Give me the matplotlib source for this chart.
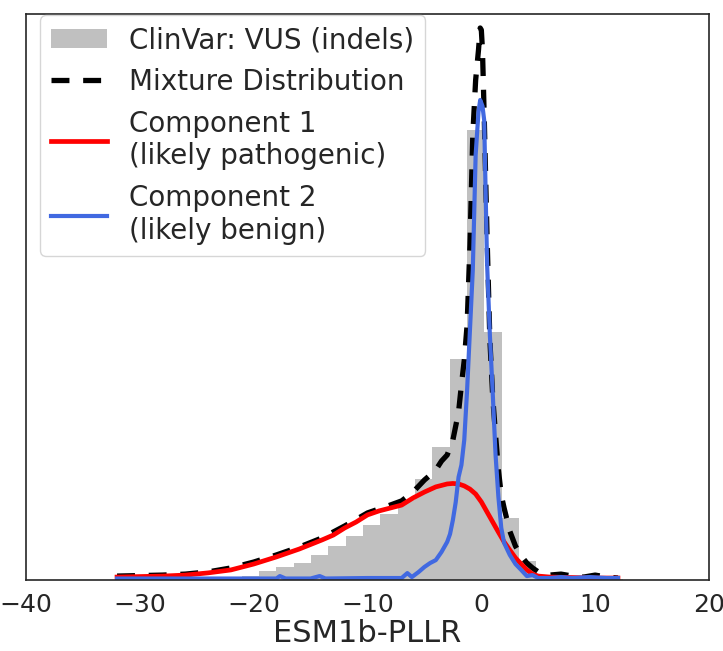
import numpy as np
import matplotlib.pyplot as plt

# ClinVar VUS indels: histogram (density), equal width bins between the two limits
hist_range = (-31.7, 12.44)
hist_density = [0.0004, 0.0004, 0.0004, 0.0004, 0.0008, 0.0008, 0.0012, 0.0016,
                0.0037, 0.0053, 0.0069, 0.0102, 0.0138, 0.0179, 0.0224, 0.0269,
                0.0326, 0.0411, 0.0541, 0.0899, 0.1832, 0.1009, 0.0252, 0.0077,
                0.0020, 0.0008, 0.0004, 0.0004, 0.0004]

# mixture model curves
mix_x = [-32, -30, -28, -26, -24, -22, -20, -18, -16, -14, -12, -10, -9, -8, -7, -6,
         -5, -4.5, -4, -3.5, -3, -2.5, -2, -1.75, -1.5, -1.25, -1, -0.75, -0.5,
         -0.25, -0.1, 0, 0.1, 0.25, 0.5, 0.75, 1, 1.25, 1.5, 1.75, 2, 2.5, 3, 3.5,
         4, 4.5, 5, 5.5, 6, 7, 8, 9, 10, 11, 12]
mix_y = [0.0016, 0.0018, 0.0020, 0.0024, 0.0033, 0.0049, 0.0073, 0.0102, 0.0134,
         0.0171, 0.0220, 0.0273, 0.0289, 0.0305, 0.0322, 0.0358, 0.0407, 0.0427,
         0.0448, 0.0484, 0.0509, 0.0570, 0.0684, 0.0794, 0.0895, 0.1038, 0.1363,
         0.1811, 0.2035, 0.2157, 0.2247, 0.2239, 0.2157, 0.1893, 0.1404, 0.0977,
         0.0745, 0.0590, 0.0448, 0.0346, 0.0293, 0.0199, 0.0138, 0.0098, 0.0069,
         0.0049, 0.0033, 0.0024, 0.0020, 0.0024, 0.0016, 0.0012, 0.0020, 0.0012,
         0.0008]

comp1_x = [-32, -30, -28, -26, -24, -22, -20, -18, -16, -14, -13, -12, -11, -10, -9,
           -8, -7, -6, -5, -4, -3, -2.5, -2, -1.5, -1, -0.5, 0, 0.5, 1, 1.5, 2, 2.5,
           3, 3.5, 4, 4.5, 5, 6, 8, 10, 12]
comp1_y = [0.0012, 0.0014, 0.0016, 0.0020, 0.0029, 0.0041, 0.0065, 0.0094, 0.0126,
           0.0163, 0.0183, 0.0212, 0.0236, 0.0265, 0.0281, 0.0293, 0.0305, 0.0334,
           0.0358, 0.0379, 0.0391, 0.0393, 0.0391, 0.0383, 0.0370, 0.0350, 0.0318,
           0.0277, 0.0236, 0.0195, 0.0155, 0.0122, 0.0090, 0.0065, 0.0041, 0.0024,
           0.0016, 0.0012, 0.0010, 0.0008, 0.0008]

comp2_x = [-32, -28, -24, -20, -18, -17.7, -17.2, -15, -14.2, -13.7, -10, -8, -7,
           -6.5, -6.1, -5.5, -5, -4.5, -4, -3.5, -3, -2.75, -2.5, -2.25, -2, -1.75,
           -1.5, -1.25, -1, -0.75, -0.5, -0.25, -0.1, 0.1, 0.25, 0.5, 0.75, 1, 1.25,
           1.5, 1.75, 2, 2.5, 3, 3.5, 4, 4.5, 5, 6, 7, 8, 9.5, 11, 12]
comp2_y = [0.0006, 0.0006, 0.0006, 0.0006, 0.0006, 0.0016, 0.0006, 0.0006, 0.0016,
           0.0006, 0.0008, 0.0008, 0.0008, 0.0028, 0.0012, 0.0033, 0.0053, 0.0069,
           0.0081, 0.0114, 0.0155, 0.0187, 0.0244, 0.0317, 0.0419, 0.0468, 0.0570,
           0.0773, 0.1018, 0.1262, 0.1730, 0.1905, 0.1954, 0.1929, 0.1872, 0.1294,
           0.0997, 0.0761, 0.0509, 0.0338, 0.0212, 0.0151, 0.0102, 0.0065, 0.0041,
           0.0016, 0.0020, 0.0008, 0.0008, 0.0012, 0.0008, 0.0012, 0.0008, 0.0008]

xticks = [-40, -30, -20, -10, 0, 10, 20]

plt.rcParams['font.family'] = ['DejaVu Sans']
plt.rcParams['text.color'] = '.15'
plt.rcParams['xtick.color'] = '.15'
plt.rcParams['axes.labelcolor'] = '.15'

fig = plt.figure(figsize=(7.23, 6.51), dpi=100)
ax = fig.add_axes([26 / 723, 71 / 651, 683 / 723, 566 / 651])

edges = np.linspace(hist_range[0], hist_range[1], len(hist_density) + 1)
ax.stairs(hist_density, edges, fill=True, color='silver', label='ClinVar: VUS (indels)')

ax.plot(mix_x, mix_y, color='black', lw=3.8, dashes=(3.4, 2.6),
        label='Mixture Distribution')
ax.plot(comp1_x, comp1_y, color='red', lw=3.4, label='Component 1\n(likely pathogenic)')
ax.plot(comp2_x, comp2_y, color='royalblue', lw=3.0, label='Component 2\n(likely benign)')

ax.set_xlim(-40, 20)
ax.set_ylim(0, 0.2304)
ax.set_xticks(xticks)
ax.set_yticks([])
ax.tick_params(axis='x', length=0, labelsize=18, pad=9)
ax.set_xlabel('ESM1b-PLLR', fontsize=22, labelpad=2)
for s in ax.spines.values():
    s.set_color('.15')
    s.set_linewidth(1.2)

ax.legend(loc='upper left', bbox_to_anchor=(0.0205, 0.998), borderaxespad=0,
          fontsize=20, edgecolor='0.8')

fig.savefig('out.png', dpi=100)
